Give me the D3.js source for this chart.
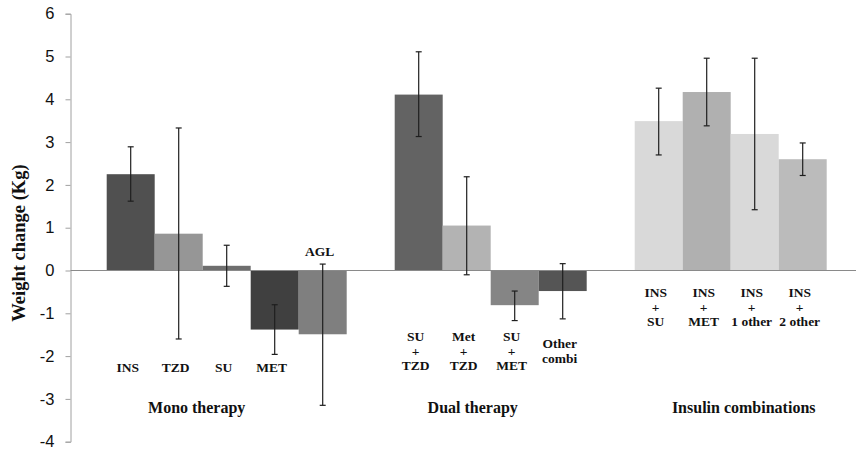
<!DOCTYPE html>
<html>
<head>
<meta charset="utf-8">
<script src="https://cdn.jsdelivr.net/npm/d3@7"></script>
<style>
  html, body { margin: 0; padding: 0; background: #fff; }
  svg { display: block; }
</style>
</head>
<body>
<svg id="chart" width="856" height="450"></svg>
<script>
// Treatment groups and their member regimens
const groups = ["Mono therapy", "Dual therapy", "Insulin combinations"];
const categories = [
  ["INS"], ["TZD"], ["SU"], ["MET"], ["AGL"],
  ["SU", "+", "TZD"], ["Met", "+", "TZD"], ["SU", "+", "MET"], ["Other", "combi"],
  ["INS", "+", "SU"], ["INS", "+", "MET"], ["INS", "+", "1 other"], ["INS", "+", "2 other"]
];
const groupOf = [0, 0, 0, 0, 0, 1, 1, 1, 1, 2, 2, 2, 2];

// Mean weight change (kg) with lower / upper confidence limits
const meanChange = [2.25, 0.86, 0.11, -1.38, -1.49, 4.11, 1.05, -0.81, -0.48, 3.49, 4.17, 3.19, 2.60];
const ciLow  = [1.62, -1.60, -0.37, -1.96, -3.15, 3.13, -0.10, -1.17, -1.13, 2.70, 3.38, 1.42, 2.22];
const ciHigh = [2.89, 3.33, 0.59, -0.80, 0.15, 5.11, 2.19, -0.48, 0.16, 4.26, 4.96, 4.96, 2.98];

// Regimens whose label sits above the zero line
const labelAbove = [false, false, false, false, true, false, false, false, false, false, false, false, false];

const yTicks = [-4, -3, -2, -1, 0, 1, 2, 3, 4, 5, 6];

// ---- styling ----
const barColors = ["#505050", "#969696", "#6e6e6e", "#404040", "#7f7f7f",
                   "#636363", "#b3b3b3", "#858585", "#555555",
                   "#d9d9d9", "#b0b0b0", "#d9d9d9", "#bbbbbb"];
const serif = "'Liberation Serif', 'Times New Roman', serif";
const sans = "'Liberation Sans', Arial, Helvetica, sans-serif";

const svg = d3.select("#chart");

// One band slot per bar, plus an empty slot between groups
const slots = [];
groups.forEach((g, gi) => {
  if (gi > 0) slots.push("gap" + gi);
  categories.forEach((c, i) => { if (groupOf[i] === gi) slots.push("c" + i); });
});

const x = d3.scaleBand().domain(slots).range([106.7, 826.7]).padding(0);
const y = d3.scaleLinear().domain([-4, 6]).range([441.7, 13.7]);
const axisX = 70.5;

// y axis
const yAxis = d3.axisLeft(y).tickValues(yTicks).tickSize(5).tickPadding(11)
  .tickFormat(d => String(d));
const gy = svg.append("g").attr("transform", `translate(${axisX},0)`).call(yAxis);
gy.select(".domain").attr("stroke", "#a0a0a0").attr("stroke-width", 1);
gy.selectAll(".tick line").attr("stroke", "#a0a0a0");
gy.selectAll(".tick text")
  .attr("font-family", sans).attr("font-size", 16.5).attr("fill", "#111");

// axis title
svg.append("text")
  .attr("transform", "translate(25,243) rotate(-90)")
  .attr("text-anchor", "middle")
  .attr("font-family", serif).attr("font-weight", "bold").attr("font-size", 18.5)
  .attr("fill", "#111")
  .text("Weight change (Kg)");

const idx = d3.range(categories.length);

// bars
svg.append("g").selectAll("rect").data(idx).join("rect")
  .attr("x", i => x("c" + i))
  .attr("width", x.bandwidth())
  .attr("y", i => y(Math.max(0, meanChange[i])))
  .attr("height", i => Math.abs(y(meanChange[i]) - y(0)))
  .attr("fill", i => barColors[i]);

// zero line
svg.append("line")
  .attr("x1", axisX).attr("x2", 856)
  .attr("y1", y(0)).attr("y2", y(0))
  .attr("stroke", "#8a8a8a").attr("stroke-width", 1.2);

// error bars
const eb = svg.append("g").attr("stroke", "#1e1e1e").attr("stroke-width", 1.2).attr("fill", "none");
idx.forEach(i => {
  const cx = x("c" + i) + x.bandwidth() / 2;
  eb.append("line").attr("x1", cx).attr("x2", cx).attr("y1", y(ciLow[i])).attr("y2", y(ciHigh[i]));
  eb.append("line").attr("x1", cx - 3).attr("x2", cx + 3).attr("y1", y(ciLow[i])).attr("y2", y(ciLow[i]));
  eb.append("line").attr("x1", cx - 3).attr("x2", cx + 3).attr("y1", y(ciHigh[i])).attr("y2", y(ciHigh[i]));
});

// regimen labels; middle-line baseline per group, offset below the zero line
const labelMid = [101, 85, 41];
const lineH = 14.5;
const lab = svg.append("g")
  .attr("font-family", serif).attr("font-weight", "bold").attr("font-size", 13.5)
  .attr("fill", "#111").attr("text-anchor", "middle");
idx.forEach(i => {
  const cx = x("c" + i) + x.bandwidth() / 2 - 3;
  const lines = categories[i];
  const n = lines.length;
  let base;
  if (labelAbove[i]) base = y(0) - 14.5;
  else base = y(0) + labelMid[groupOf[i]] - (n - 1) * lineH / 2;
  const t = lab.append("text").attr("x", cx).attr("y", base);
  lines.forEach((s, k) => {
    t.append("tspan").attr("x", cx).attr("dy", k === 0 ? 0 : lineH).text(s);
  });
});

// group titles
const titleShift = [-30, -18, 13];
groups.forEach((g, gi) => {
  const members = idx.filter(i => groupOf[i] === gi);
  const left = x("c" + members[0]);
  const right = x("c" + members[members.length - 1]) + x.bandwidth();
  svg.append("text")
    .attr("x", (left + right) / 2 + titleShift[gi])
    .attr("y", y(0) + 142.5)
    .attr("text-anchor", "middle")
    .attr("font-family", serif).attr("font-weight", "bold").attr("font-size", 16)
    .attr("fill", "#111")
    .text(g);
});
</script>
</body>
</html>
